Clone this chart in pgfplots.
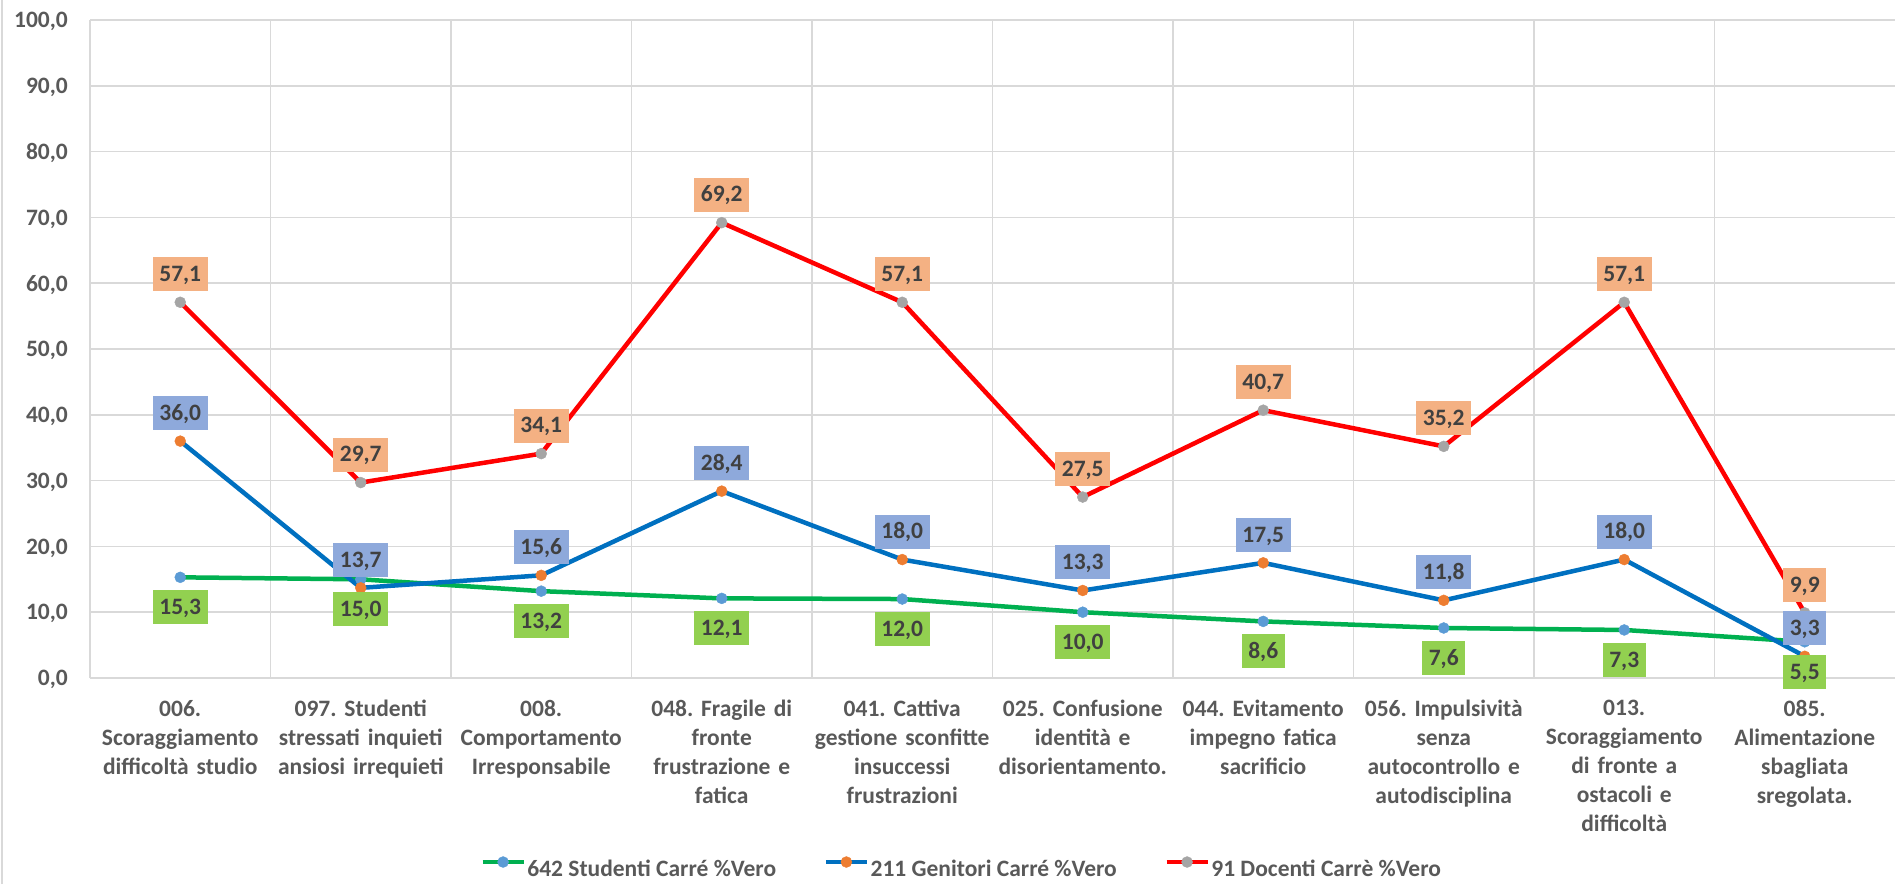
\documentclass[border=0pt]{standalone}
\usepackage{pgfplots}
\usepackage{pgfplotstable}
\pgfplotsset{compat=1.18}
\usepackage{fontspec}
\setmainfont{Carlito}
\definecolor{gridgray}{HTML}{D9D9D9}
\definecolor{tickgray}{HTML}{595959}
\definecolor{labgray}{HTML}{404040}
\definecolor{sgreen}{HTML}{00B050}
\definecolor{sgmark}{HTML}{5B9BD5}
\definecolor{gblue}{HTML}{0070C0}
\definecolor{gbmark}{HTML}{ED7D31}
\definecolor{dred}{HTML}{FF0000}
\definecolor{drmark}{HTML}{A5A5A5}
\definecolor{boxgreen}{HTML}{92D050}
\definecolor{boxblue}{HTML}{8EA9DB}
\definecolor{boxorange}{HTML}{F4B183}

\pgfplotstableread{
x stud gen doc
0 15.3 36.0 57.1
1 15.0 13.7 29.7
2 13.2 15.6 34.1
3 12.1 28.4 69.2
4 12.0 18.0 57.1
5 10.0 13.3 27.5
6 8.6 17.5 40.7
7 7.6 11.8 35.2
8 7.3 18.0 57.1
9 5.5 3.3 9.9
}\datatable

\begin{document}
\frenchspacing
\begin{tikzpicture}
\useasboundingbox (0,0) rectangle (1895pt,884pt);
\draw[gridgray, line width=2pt] (1.5pt,0) -- (1.5pt,884pt);
\begin{axis}[
  at={(90pt,206pt)}, anchor=south west,
  scale only axis, width=1805pt, height=658pt,
  xmin=-0.5, xmax=9.5, ymin=0, ymax=100,
  clip=false,
  axis line style={draw=none},
  tick style={draw=none},
  major tick length=0pt, minor tick length=0pt,
  xtick={0,...,9},
  minor xtick={-0.5,0.5,...,8.5},
  xminorgrids=true, xmajorgrids=false,
  ytick={0,10,...,100},
  ymajorgrids=true,
  grid style={gridgray, line width=1.5pt},
  minor grid style={gridgray, line width=1.5pt},
  scaled y ticks=false,
  /pgf/number format/assume math mode=true,
  yticklabel style={/pgf/number format/.cd, fixed, fixed zerofill, precision=1, use comma, /tikz/.cd,
    font=\fontsize{23.5}{28}\selectfont\bfseries, text=tickgray, anchor=east, inner sep=0pt, xshift=-22pt, text depth=0pt},
  xticklabels={
    {006.\\Scoraggiamento\\difficoltà studio},
    {097. Studenti\\stressati inquieti\\ansiosi irrequieti},
    {008.\\Comportamento\\Irresponsabile},
    {048. Fragile di\\fronte\\frustrazione e\\fatica},
    {041. Cattiva\\gestione sconfitte\\insuccessi\\frustrazioni},
    {025. Confusione\\identità e\\disorientamento.},
    {044. Evitamento\\impegno fatica\\sacrificio},
    {056. Impulsività\\senza\\autocontrollo e\\autodisciplina},
    {013.\\Scoraggiamento\\di fronte a\\ostacoli e\\difficoltà},
    {085.\\Alimentazione\\sbagliata\\sregolata.}},
  xticklabel style={font=\fontsize{23.5}{29}\selectfont\bfseries, text=tickgray, anchor=north,
    inner sep=0pt, yshift=-22pt, text width=180pt, align=center},
  legend columns=3,
  legend style={at={(0.4828,-0.2888)}, anchor=center, draw=none, fill=none,
    font=\fontsize{23.5}{28}\selectfont\bfseries, text=tickgray,
    /tikz/every even column/.append style={column sep=46pt},
    nodes={inner sep=1.5pt}},
  legend image code/.code={
    \draw[#1, mark=none] (0pt,7pt) -- (41pt,7pt);
    \draw[#1] plot coordinates {(20.5pt,7pt)};
  },
  labelbox/.style={every node near coord/.append style={
    fill=#1, anchor=center, font=\fontsize{23.5}{28}\selectfont\bfseries, text=labgray,
    inner xsep=6.5pt, inner ysep=9.75pt, text height=14.5pt, text depth=0pt}},
]
\addplot[sgreen, line width=4.5pt, mark=*, mark size=5.5pt, mark options={draw=sgmark, fill=sgmark, line width=0.4pt}]
  table[x=x, y=stud]{\datatable};
\addlegendentry{642 Studenti Carré \%Vero}
\addplot[gblue, line width=4.5pt, mark=*, mark size=5.5pt, mark options={draw=gbmark, fill=gbmark, line width=0.4pt}]
  table[x=x, y=gen]{\datatable};
\addlegendentry{211 Genitori Carré \%Vero}
\addplot[dred, line width=4.5pt, mark=*, mark size=5.5pt, mark options={draw=drmark, fill=drmark, line width=0.4pt}]
  table[x=x, y=doc]{\datatable};
\addlegendentry{91 Docenti Carrè \%Vero}

\addplot[draw=none, mark=none, forget plot, point meta=explicit,
  nodes near coords={\pgfmathprintnumber[fixed,fixed zerofill,precision=1,use comma]{\pgfplotspointmeta}},
  labelbox=boxgreen, every node near coord/.append style={yshift=-30pt}]
  table[x=x, y=stud, meta=stud]{\datatable};
\addplot[draw=none, mark=none, forget plot, point meta=explicit,
  nodes near coords={\pgfmathprintnumber[fixed,fixed zerofill,precision=1,use comma]{\pgfplotspointmeta}},
  labelbox=boxblue, every node near coord/.append style={yshift=28pt}]
  table[x=x, y=gen, meta=gen]{\datatable};
\addplot[draw=none, mark=none, forget plot, point meta=explicit,
  nodes near coords={\pgfmathprintnumber[fixed,fixed zerofill,precision=1,use comma]{\pgfplotspointmeta}},
  labelbox=boxorange, every node near coord/.append style={yshift=28pt}]
  table[x=x, y=doc, meta=doc]{\datatable};
\end{axis}
\end{tikzpicture}
\end{document}
